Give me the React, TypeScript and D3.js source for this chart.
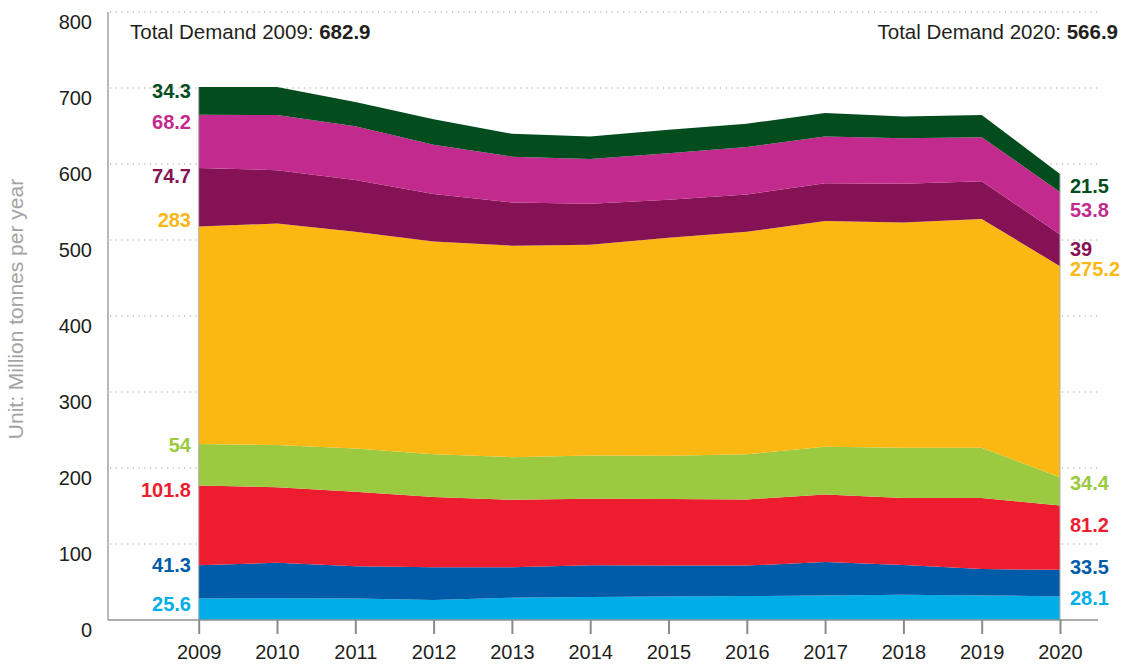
import { useEffect, useRef } from 'react';
import * as d3 from 'd3';

// Years on the x axis
const years = [2009, 2010, 2011, 2012, 2013, 2014, 2015, 2016, 2017, 2018, 2019, 2020];

// Layer values (Million tonnes per year), bottom to top
const lightBlue = [28.3, 28.7, 28.3, 26.4, 29.2, 30.1, 31.0, 31.5, 32.4, 33.3, 32.4, 31.0];
const darkBlue = [43.7, 46.5, 42.4, 42.9, 40.1, 41.9, 40.6, 40.1, 43.8, 39.2, 34.6, 35.1];
const red = [104.9, 99.4, 98.0, 92.6, 88.9, 87.6, 87.5, 87.1, 88.9, 88.0, 93.5, 84.4];
const lightGreen = [54.7, 55.7, 57.0, 56.1, 56.1, 57.0, 57.0, 59.3, 62.9, 66.1, 66.1, 37.4];
const yellow = [286.0, 291.4, 285.0, 280.0, 278.2, 277.2, 286.9, 292.7, 296.9, 296.4, 301.0, 277.7];
const plum = [77.0, 70.2, 68.4, 62.4, 57.0, 53.9, 50.1, 49.3, 49.7, 51.1, 49.7, 41.5];
const magenta = [70.2, 72.5, 70.7, 64.8, 60.2, 58.8, 61.1, 62.4, 61.5, 59.7, 57.9, 56.1];
const darkGreen = [36.5, 36.9, 31.9, 33.7, 30.1, 29.6, 31.0, 30.6, 31.0, 28.8, 29.2, 23.7];

// End labels as printed on the chart
const startLabels = ['25.6', '41.3', '101.8', '54', '283', '74.7', '68.2', '34.3'];
const endLabels = ['28.1', '33.5', '81.2', '34.4', '275.2', '39', '53.8', '21.5'];

const yTicks = [0, 100, 200, 300, 400, 500, 600, 700, 800];

const keys = ['lightBlue', 'darkBlue', 'red', 'lightGreen', 'yellow', 'plum', 'magenta', 'darkGreen'];
const series = [lightBlue, darkBlue, red, lightGreen, yellow, plum, magenta, darkGreen];
const colors = ['#00aee7', '#005ca9', '#ed1c2f', '#9bca41', '#fbb813', '#851254', '#c22b8d', '#034c1e'];

// label vertical centres (px) — hand placed like the original to avoid overlaps
const startLabelY = [604, 565, 490, 445, 220, 176, 122, 91];
const endLabelY = [598, 567, 525, 483, 269, 249, 210, 186];

const FONT = "'Liberation Sans', Arial, Helvetica, sans-serif";

export default function App() {
  const svgRef = useRef<SVGSVGElement | null>(null);

  useEffect(() => {
    if (!svgRef.current) return;
    const W = 1123;
    const H = 665;

    const svg = d3.select(svgRef.current);
    svg.selectAll('*').remove();
    svg.attr('width', W).attr('height', H);

    const x = d3.scalePoint<number>().domain(years).range([198.7, 1060]);
    const y = d3.scaleLinear().domain([0, 800]).range([620, 12]);

    const table = years.map((yr, i) => {
      const row: Record<string, number> = { year: yr };
      keys.forEach((k, j) => (row[k] = series[j][i]));
      return row;
    });
    const stacked = d3.stack<Record<string, number>>().keys(keys)(table);

    // Dotted grid lines
    svg.append('g')
      .selectAll('line')
      .data(yTicks.filter(t => t > 0))
      .join('line')
      .attr('x1', 110)
      .attr('x2', 1098)
      .attr('y1', d => y(d))
      .attr('y2', d => y(d))
      .attr('stroke', '#9a9a9a')
      .attr('stroke-width', 1.2)
      .attr('stroke-dasharray', '1.2,4.5');

    // Stacked areas
    const area = d3.area<d3.SeriesPoint<Record<string, number>>>()
      .x(d => x(d.data.year as number) as number)
      .y0(d => y(d[0]))
      .y1(d => y(d[1]));

    svg.append('g')
      .selectAll('path')
      .data(stacked)
      .join('path')
      .attr('d', d => area(d) as string)
      .attr('fill', (_d, i) => colors[i]);

    // thin edge lines at both ends of the area
    const top = stacked[stacked.length - 1];
    [0, years.length - 1].forEach(i => {
      svg.append('line')
        .attr('x1', x(years[i]) as number)
        .attr('x2', x(years[i]) as number)
        .attr('y1', y(top[i][1]))
        .attr('y2', y(0))
        .attr('stroke', '#b0b0b0')
        .attr('stroke-width', 1);
    });

    // Axis lines
    svg.append('line')
      .attr('x1', 108).attr('x2', 108)
      .attr('y1', 12).attr('y2', 620)
      .attr('stroke', '#a0a0a0').attr('stroke-width', 1.5);
    svg.append('line')
      .attr('x1', 108).attr('x2', 1098)
      .attr('y1', 620).attr('y2', 620)
      .attr('stroke', '#909090').attr('stroke-width', 1.5);

    // X ticks + labels
    svg.append('g')
      .attr('transform', 'translate(0, 620)')
      .call(d3.axisBottom(x).tickSize(14).tickPadding(11).tickFormat(d => String(d)))
      .call(g => g.select('.domain').remove())
      .call(g => g.selectAll('.tick line').attr('stroke', '#8a8a8a').attr('stroke-width', 2))
      .selectAll('text')
      .attr('fill', '#231f20')
      .attr('font-size', '20px')
      .attr('font-family', FONT);

    // Y tick labels
    svg.append('g')
      .selectAll('text')
      .data(yTicks)
      .join('text')
      .attr('x', 92)
      .attr('y', d => y(d) + 10)
      .attr('dy', '0.35em')
      .attr('text-anchor', 'end')
      .attr('fill', '#231f20')
      .attr('font-size', '20px')
      .attr('font-family', FONT)
      .text(d => d);

    // Y axis title
    svg.append('text')
      .attr('transform', 'translate(16, 309) rotate(-90)')
      .attr('text-anchor', 'middle')
      .attr('dy', '0.35em')
      .attr('fill', '#a3a3a3')
      .attr('font-size', '21px')
      .attr('font-family', FONT)
      .text('Unit: Million tonnes per year');

    // Totals
    const t1 = svg.append('text')
      .attr('x', 130).attr('y', 39)
      .attr('fill', '#231f20')
      .attr('font-size', '20.5px')
      .attr('font-family', FONT);
    t1.append('tspan').text('Total Demand 2009: ');
    t1.append('tspan').attr('font-weight', 'bold').text('682.9');

    const t2 = svg.append('text')
      .attr('x', 1118).attr('y', 39)
      .attr('text-anchor', 'end')
      .attr('fill', '#231f20')
      .attr('font-size', '20.5px')
      .attr('font-family', FONT);
    t2.append('tspan').text('Total Demand 2020: ');
    t2.append('tspan').attr('font-weight', 'bold').text('566.9');

    // Start / end value labels
    svg.append('g')
      .selectAll('text')
      .data(startLabels)
      .join('text')
      .attr('x', 191)
      .attr('y', (_d, i) => startLabelY[i])
      .attr('dy', '0.35em')
      .attr('text-anchor', 'end')
      .attr('fill', (_d, i) => colors[i])
      .attr('font-size', '20px')
      .attr('font-weight', 'bold')
      .attr('font-family', FONT)
      .text(d => d);

    svg.append('g')
      .selectAll('text')
      .data(endLabels)
      .join('text')
      .attr('x', 1070)
      .attr('y', (_d, i) => endLabelY[i])
      .attr('dy', '0.35em')
      .attr('fill', (_d, i) => colors[i])
      .attr('font-size', '20px')
      .attr('font-weight', 'bold')
      .attr('font-family', FONT)
      .text(d => d);
  }, []);

  return (
    <div style={{ position: 'absolute', left: 0, top: 0, background: '#fff' }}>
      <svg ref={svgRef} style={{ display: 'block' }}></svg>
    </div>
  );
}
